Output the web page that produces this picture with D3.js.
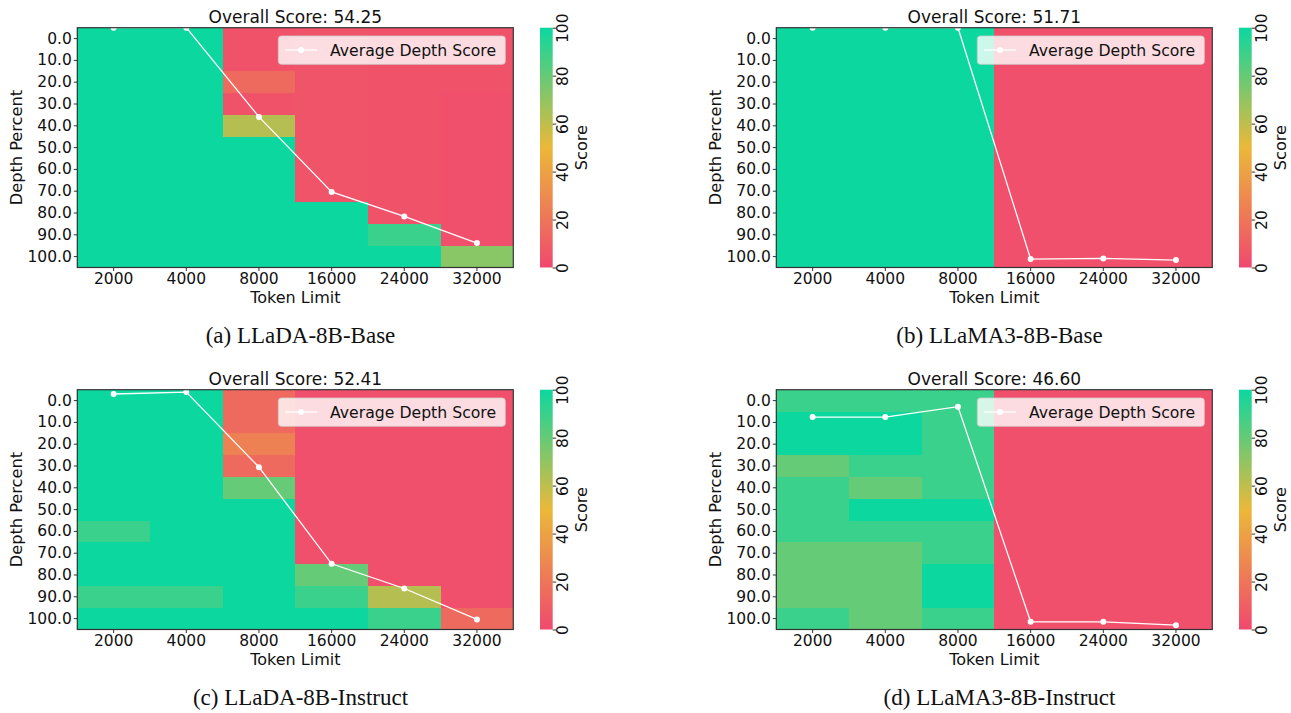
<!DOCTYPE html>
<html lang="en">
<head>
<meta charset="UTF-8">
<title>Needle in a Haystack heatmaps</title>
<script src="https://d3js.org/d3.v7.min.js"></script>
<style>
    body { margin: 0; background: #fff; }
    svg { display: block; }
    text { font-family: "DejaVu Sans", sans-serif; fill: #111; }
    .caption { font-family: "Liberation Serif", "Times New Roman", serif; }
</style>
</head>
<body>
<script>
// Shared axes
const tokenLimits = [2000, 4000, 8000, 16000, 24000, 32000];
const depthPercents = [0, 10, 20, 30, 40, 50, 60, 70, 80, 90, 100];
const cbarTicks = [0, 20, 40, 60, 80, 100];

const overallScores = ["54.25", "51.71", "52.41", "46.60"];
const captions = ["(a) LLaDA-8B-Base", "(b) LLaMA3-8B-Base", "(c) LLaDA-8B-Instruct", "(d) LLaMA3-8B-Instruct"];

// Cell scores: one array per token limit, depth 0 -> 100 top to bottom
const scoresA = [
    [100, 100, 100, 100, 100, 100, 100, 100, 100, 100, 100],
    [100, 100, 100, 100, 100, 100, 100, 100, 100, 100, 100],
    [4, 4, 15, 4, 62, 100, 100, 100, 100, 100, 100],
    [5, 5, 5, 5, 5, 5, 5, 5, 100, 100, 100],
    [4, 4, 4, 4, 4, 4, 4, 4, 4, 90, 100],
    [4, 4, 4, 3, 3, 3, 3, 3, 3, 3, 72]
];
const scoresB = [
    [100, 100, 100, 100, 100, 100, 100, 100, 100, 100, 100],
    [100, 100, 100, 100, 100, 100, 100, 100, 100, 100, 100],
    [100, 100, 100, 100, 100, 100, 100, 100, 100, 100, 100],
    [3, 3, 3, 3, 3, 3, 3, 3, 3, 3, 3],
    [3, 3, 3, 3, 3, 3, 3, 3, 3, 3, 3],
    [3, 3, 3, 3, 3, 3, 3, 3, 3, 3, 3]
];
const scoresC = [
    [100, 100, 100, 100, 100, 100, 90, 100, 100, 90, 100],
    [100, 100, 100, 100, 100, 100, 100, 100, 100, 90, 100],
    [15, 15, 25, 15, 80, 100, 100, 100, 100, 100, 100],
    [3, 3, 3, 3, 3, 3, 3, 3, 80, 90, 100],
    [3, 3, 3, 3, 3, 3, 3, 3, 3, 62, 90],
    [3, 3, 3, 3, 3, 3, 3, 3, 3, 3, 15]
];
const scoresD = [
    [90, 100, 100, 80, 90, 90, 90, 80, 80, 80, 90],
    [90, 100, 100, 90, 80, 100, 90, 80, 80, 80, 80],
    [90, 90, 90, 90, 90, 100, 90, 90, 100, 100, 90],
    [3, 3, 3, 3, 3, 3, 3, 3, 3, 3, 3],
    [3, 3, 3, 3, 3, 3, 3, 3, 3, 3, 3],
    [3, 3, 3, 3, 3, 3, 3, 3, 3, 3, 3]
];

// Average depth score line, one value per token limit
const avgA = [100, 100, 62.8, 31.5, 21.3, 10.2];
const avgB = [100, 100, 100, 3.5, 3.8, 3.1];
const avgC = [98.2, 99, 67.7, 27.4, 17.1, 4.2];
const avgD = [88.6, 88.6, 92.9, 3.2, 3.2, 1.8];

const panelScores = [scoresA, scoresB, scoresC, scoresD];
const panelAvgs = [avgA, avgB, avgC, avgD];

// layout
const W = 1291, H = 713;
const plot = {left: 77.3, top: 27.7, width: 436, height: 239.8};
const cbar = {x: 540, width: 12.7};
const panelOffsets = [[0, 0], [699, 0], [0, 362], [699, 362]];

const svg = d3.select("body").append("svg")
    .attr("width", W)
    .attr("height", H);

const color = d3.scaleLinear()
    .domain([0, 50, 100])
    .range(["#F0496E", "#EBB839", "#0CD79F"]);

const defs = svg.append("defs");
const grad = defs.append("linearGradient")
    .attr("id", "cbarGrad")
    .attr("x1", 0).attr("y1", 1).attr("x2", 0).attr("y2", 0);
[0, 50, 100].forEach(v => {
    grad.append("stop").attr("offset", v / 100).attr("stop-color", color(v));
});
defs.append("clipPath").attr("id", "plotClip")
    .append("rect")
    .attr("x", plot.left).attr("y", plot.top)
    .attr("width", plot.width).attr("height", plot.height);

function drawPanel(i) {
    const [dx, dy] = panelOffsets[i];
    const g = svg.append("g").attr("transform", `translate(${dx},${dy})`);
    const bottom = plot.top + plot.height;

    const x = d3.scaleBand().domain(tokenLimits).range([plot.left, plot.left + plot.width]);
    const y = d3.scaleBand().domain(depthPercents).range([plot.top, bottom]);
    const yLine = d3.scaleLinear().domain([0, 100]).range([bottom, plot.top]);

    // heatmap cells
    const cells = [];
    panelScores[i].forEach((col, ci) => col.forEach((v, ri) => {
        cells.push({t: tokenLimits[ci], d: depthPercents[ri], v: v});
    }));
    g.append("g").attr("shape-rendering", "crispEdges")
        .selectAll("rect")
        .data(cells)
        .join("rect")
        .attr("x", d => x(d.t))
        .attr("y", d => y(d.d))
        .attr("width", x.bandwidth())
        .attr("height", y.bandwidth())
        .attr("fill", d => color(d.v));

    // average depth score line
    const pts = panelAvgs[i].map((v, k) => ({t: tokenLimits[k], v: v}));
    const lineG = g.append("g").attr("clip-path", "url(#plotClip)");
    lineG.append("path")
        .datum(pts)
        .attr("fill", "none")
        .attr("stroke", "#fff")
        .attr("stroke-width", 1.3)
        .attr("d", d3.line().x(d => x(d.t) + x.bandwidth() / 2).y(d => yLine(d.v)));
    lineG.selectAll("circle")
        .data(pts)
        .join("circle")
        .attr("cx", d => x(d.t) + x.bandwidth() / 2)
        .attr("cy", d => yLine(d.v))
        .attr("r", 3)
        .attr("fill", "#fff");

    // frame
    g.append("rect")
        .attr("x", plot.left).attr("y", plot.top)
        .attr("width", plot.width).attr("height", plot.height)
        .attr("fill", "none")
        .attr("stroke", "#333")
        .attr("stroke-width", 1.2);

    // axes
    const yAxis = g.append("g")
        .attr("transform", `translate(${plot.left},0)`)
        .call(d3.axisLeft(y).tickFormat(d => d.toFixed(1)).tickSize(3.5).tickPadding(2));
    const xAxis = g.append("g")
        .attr("transform", `translate(0,${bottom})`)
        .call(d3.axisBottom(x).tickSize(3.5).tickPadding(1.5));
    [yAxis, xAxis].forEach(a => {
        a.select(".domain").remove();
        a.selectAll("text").style("font-size", "15.5px").style("font-family", "DejaVu Sans").attr("fill", "#111");
        a.selectAll("line").attr("stroke", "#333");
    });

    // titles
    g.append("text")
        .attr("x", plot.left + plot.width / 2).attr("y", 22.7)
        .attr("text-anchor", "middle")
        .style("font-size", "17px")
        .text("Overall Score: " + overallScores[i]);
    g.append("text")
        .attr("x", plot.left + plot.width / 2).attr("y", 303)
        .attr("text-anchor", "middle")
        .style("font-size", "16px")
        .text("Token Limit");
    g.append("text")
        .attr("transform", `translate(22,${plot.top + plot.height / 2}) rotate(-90)`)
        .attr("text-anchor", "middle")
        .style("font-size", "16.2px")
        .text("Depth Percent");

    // legend
    const lg = g.append("g");
    lg.append("rect")
        .attr("x", 278.3).attr("y", 36)
        .attr("width", 227).attr("height", 28.3)
        .attr("rx", 3)
        .attr("fill", "#fff").attr("fill-opacity", 0.8)
        .attr("stroke", "#ccc").attr("stroke-opacity", 0.8);
    lg.append("line")
        .attr("x1", 285).attr("x2", 317).attr("y1", 50).attr("y2", 50)
        .attr("stroke", "#fff").attr("stroke-width", 1.3);
    lg.append("circle").attr("cx", 301).attr("cy", 50).attr("r", 3).attr("fill", "#fff");
    lg.append("text")
        .attr("x", 330).attr("y", 55.5)
        .style("font-size", "15.7px")
        .text("Average Depth Score");

    // colorbar
    g.append("rect")
        .attr("x", cbar.x).attr("y", plot.top)
        .attr("width", cbar.width).attr("height", plot.height)
        .attr("fill", "url(#cbarGrad)");
    const cScale = d3.scaleLinear().domain([0, 100]).range([bottom, plot.top]);
    const cAxis = g.append("g")
        .attr("transform", `translate(${cbar.x + cbar.width},0)`)
        .call(d3.axisRight(cScale).tickValues(cbarTicks).tickSize(3.5).tickFormat(d3.format("d")));
    cAxis.select(".domain").remove();
    cAxis.selectAll("line").attr("stroke", "#333");
    cAxis.selectAll("text")
        .attr("x", null).attr("dy", null)
        .attr("text-anchor", "middle")
        .attr("transform", "translate(15.5,0) rotate(-90)")
        .style("font-size", "15.5px")
        .style("font-family", "DejaVu Sans")
        .attr("fill", "#111");
    g.append("text")
        .attr("transform", `translate(587,${plot.top + plot.height / 2}) rotate(-90)`)
        .attr("text-anchor", "middle")
        .style("font-size", "16.2px")
        .text("Score");

    // caption
    g.append("text")
        .attr("class", "caption")
        .attr("x", 300.5).attr("y", 343)
        .attr("text-anchor", "middle")
        .style("font-size", "23px")
        .text(captions[i]);
}

[0, 1, 2, 3].forEach(drawPanel);
</script>
</body>
</html>
